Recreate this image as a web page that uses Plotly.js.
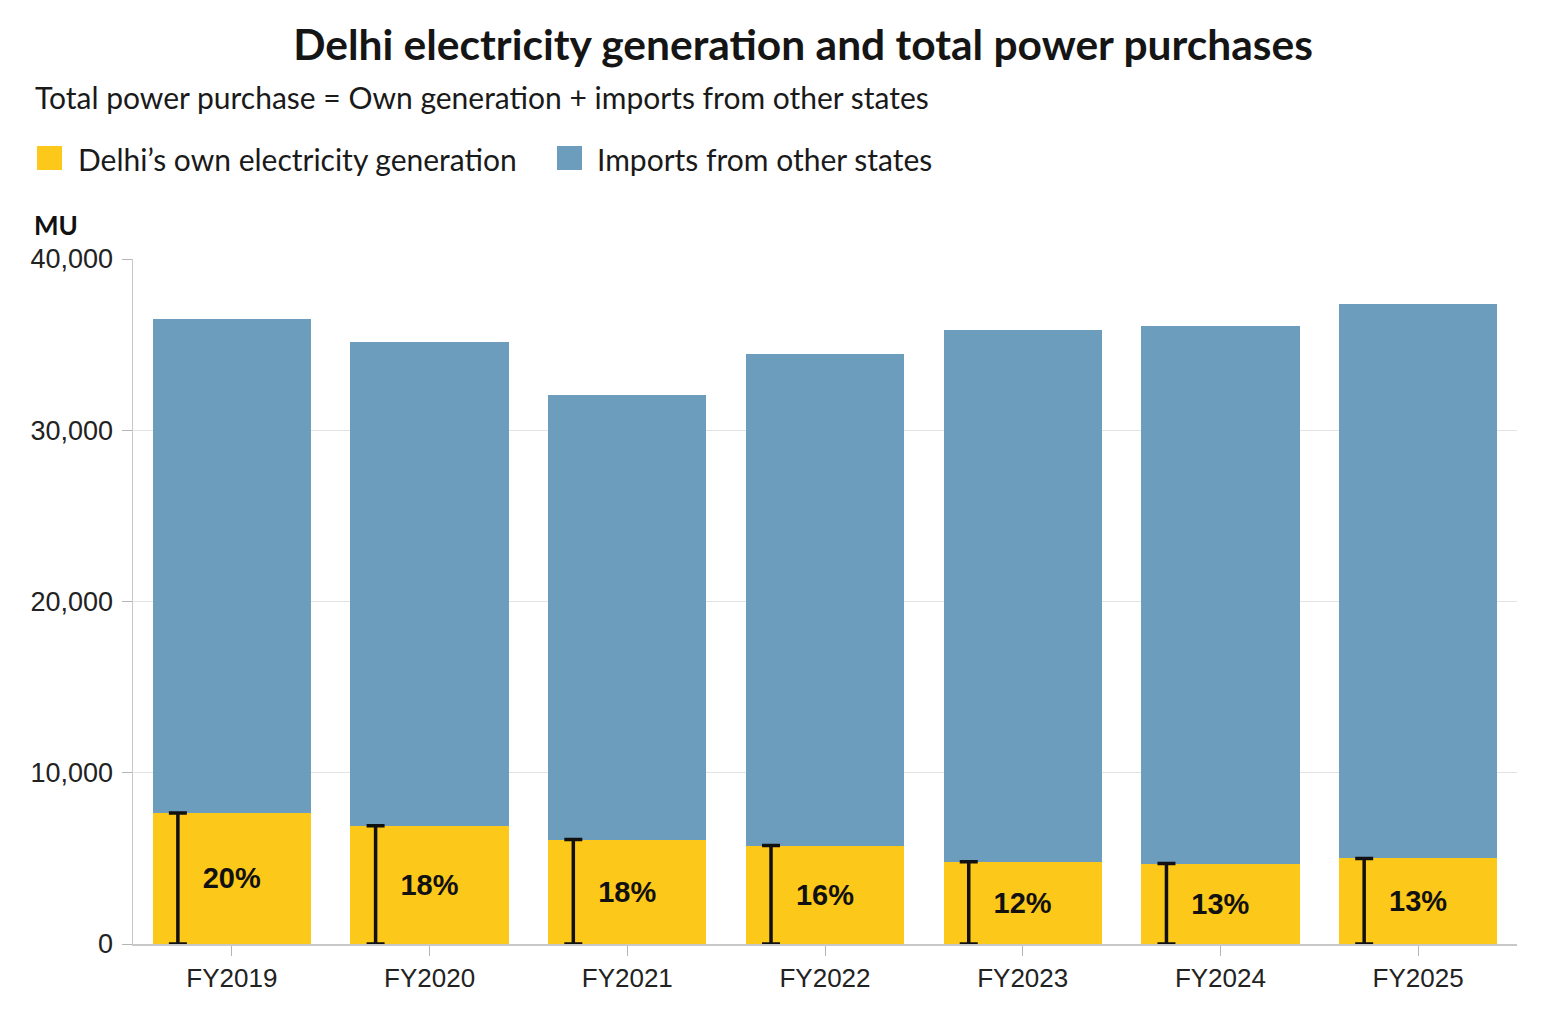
<!DOCTYPE html>
<html>
<head>
<meta charset="utf-8">
<script src="https://cdn.plot.ly/plotly-3.0.1.min.js"></script>
<style>
html,body{margin:0;padding:0;background:#fff;}
#chart{width:1544px;height:1018px;}
</style>
</head>
<body>
<div id="chart"></div>
<script>
// ---- data ----
const categories = ["FY2019","FY2020","FY2021","FY2022","FY2023","FY2024","FY2025"];
const ownGeneration = [7650, 6900, 6100, 5750, 4800, 4700, 5000];
const imports = [28850, 28250, 25950, 28700, 31050, 31400, 32400];
const shareLabels = ["20%","18%","18%","16%","12%","13%","13%"];
const seriesNames = ["Delhi\u2019s own electricity generation", "Imports from other states"];
const yTicks = [0, 10000, 20000, 30000, 40000];
const yTickLabels = ["0", "10,000", "20,000", "30,000", "40,000"];

// ---- styling ----
const YELLOW = "#FCC81A";
const BLUE = "#6C9DBC";
const W = 1544, H = 1018;
const M = {l:133, r:27, t:259, b:74};
const PW = W - M.l - M.r, PH = H - M.t - M.b;
const px2x = p => (p - M.l) / PW;
const py2y = p => (H - M.b - p) / PH;

const idx = categories.map((c, i) => i);

const traces = [
  {
    type: "bar", name: seriesNames[0], x: idx, y: ownGeneration,
    marker: {color: YELLOW}, width: 0.8,
    text: shareLabels, textposition: "inside", insidetextanchor: "middle",
    textangle: 0,
    textfont: {family: "Liberation Sans, Arial, sans-serif", size: 29, color: "#111", weight: "bold"},
    hoverinfo: "skip", showlegend: false
  },
  {
    type: "bar", name: seriesNames[1], x: idx, y: imports,
    marker: {color: BLUE}, width: 0.8,
    hoverinfo: "skip", showlegend: false
  },
  {
    type: "scatter", mode: "markers",
    x: idx.map(i => i - 0.273), y: ownGeneration,
    marker: {size: 1, color: "rgba(0,0,0,0)"},
    error_y: {type: "data", symmetric: false, array: ownGeneration.map(() => 0),
              arrayminus: ownGeneration, color: "#111", thickness: 3.5, width: 9},
    hoverinfo: "skip", showlegend: false
  }
];

const fontMain = "Lato, 'Noto Sans', sans-serif";

const layout = {
  width: W, height: H,
  margin: M,
  paper_bgcolor: "#fff", plot_bgcolor: "#fff",
  barmode: "stack",
  showlegend: false,
  title: {
    text: "<b>Delhi electricity generation and total power purchases</b>",
    font: {family: fontMain, size: 42.5, color: "#151515"},
    xref: "container", yref: "container",
    x: 803 / W, xanchor: "center",
    y: 1 - 45 / H, yanchor: "middle"
  },
  xaxis: {
    type: "linear", range: [-0.5, 6.5],
    tickvals: idx, ticktext: categories,
    ticks: "outside", ticklen: 10, tickcolor: "#b5b5b5", tickwidth: 1,
    showline: true, linecolor: "#c8c8c8", linewidth: 1.5,
    showgrid: false, zeroline: false,
    tickfont: {family: "Liberation Sans, Arial, sans-serif", size: 26, color: "#222"}
  },
  yaxis: {
    range: [0, 40000],
    tickvals: yTicks, ticktext: yTickLabels,
    ticks: "outside", ticklen: 10, tickcolor: "#b5b5b5", tickwidth: 1,
    ticklabelstandoff: 3,
    showline: true, linecolor: "#c8c8c8", linewidth: 1.5,
    showgrid: true, gridcolor: "#e3e3e3", gridwidth: 1.2,
    zeroline: false,
    tickfont: {family: "Liberation Sans, Arial, sans-serif", size: 27, color: "#222"}
  },
  annotations: [
    {
      text: "Total power purchase = Own generation + imports from other states",
      xref: "paper", yref: "paper", x: px2x(33), y: py2y(97),
      xanchor: "left", yanchor: "middle", showarrow: false,
      font: {family: fontMain, size: 30, color: "#1a1a1a"}
    },
    {
      text: seriesNames[0],
      xref: "paper", yref: "paper", x: px2x(76), y: py2y(159),
      xanchor: "left", yanchor: "middle", showarrow: false,
      font: {family: fontMain, size: 30, color: "#1a1a1a"}
    },
    {
      text: seriesNames[1],
      xref: "paper", yref: "paper", x: px2x(595), y: py2y(159),
      xanchor: "left", yanchor: "middle", showarrow: false,
      font: {family: fontMain, size: 30, color: "#1a1a1a"}
    },
    {
      text: "<b>MU</b>",
      xref: "paper", yref: "paper", x: px2x(32), y: py2y(225),
      xanchor: "left", yanchor: "middle", showarrow: false,
      font: {family: fontMain, size: 26, color: "#111"}
    }
  ],
  shapes: [
    {type: "rect", xref: "paper", yref: "paper",
     x0: px2x(37), x1: px2x(62), y0: py2y(170), y1: py2y(146),
     fillcolor: YELLOW, line: {width: 0}},
    {type: "rect", xref: "paper", yref: "paper",
     x0: px2x(557), x1: px2x(582), y0: py2y(170), y1: py2y(146),
     fillcolor: BLUE, line: {width: 0}}
  ]
};

Plotly.newPlot("chart", traces, layout, {staticPlot: true, displayModeBar: false});
</script>
</body>
</html>
